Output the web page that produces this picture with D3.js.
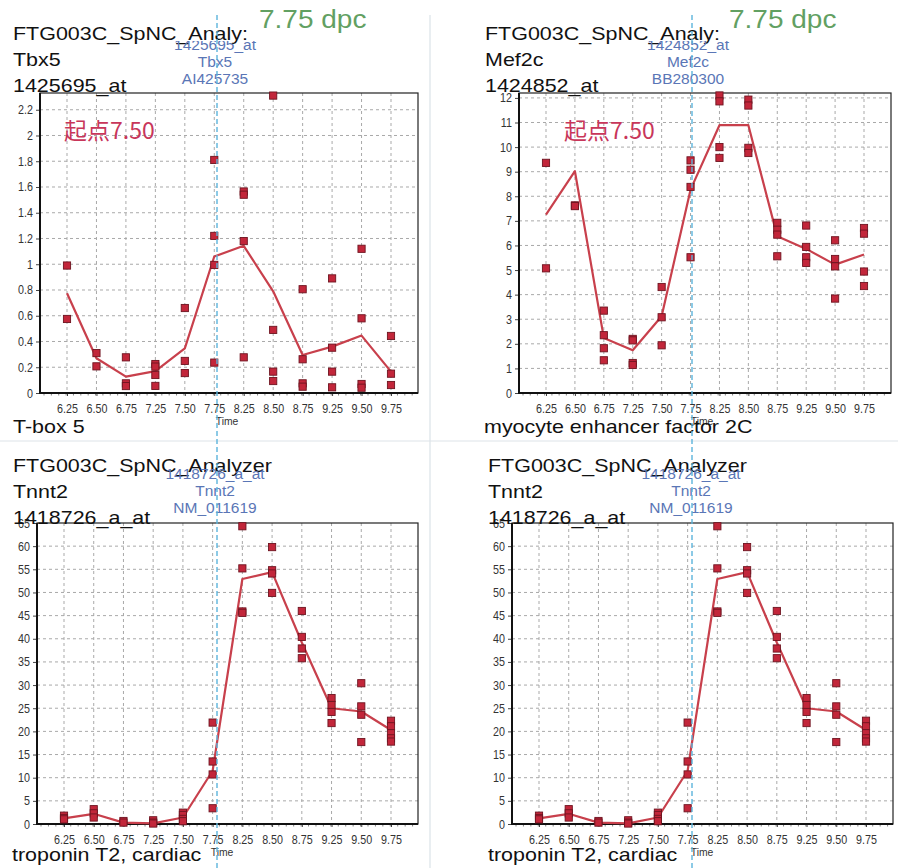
<!DOCTYPE html>
<html>
<head>
<meta charset="utf-8">
<script src="https://cdn.jsdelivr.net/npm/d3@7"></script>
<style>
  body { margin: 0; background: #fff; }
  svg { display: block; }
</style>
</head>
<body>
<svg id="chart" width="898" height="868"></svg>
<script>
// Time points (dpc) shared by every panel
const timepoints = ["6.25", "6.50", "6.75", "7.25", "7.50", "7.75", "8.25", "8.50", "8.75", "9.25", "9.50", "9.75"];

// Tbx5 (1425695_at): replicate signals per time point and the mean trend
const tbx5Samples = [
  [0.99, 0.575], [0.31, 0.207], [0.277, 0.075, 0.054], [0.225, 0.205, 0.14, 0.055],
  [0.66, 0.249, 0.155], [1.81, 1.22, 0.995, 0.236], [1.565, 1.54, 1.18, 0.277],
  [2.31, 0.49, 0.166, 0.093], [0.806, 0.262, 0.075, 0.049], [0.89, 0.352, 0.166, 0.044],
  [1.12, 0.58, 0.07, 0.041], [0.443, 0.15, 0.062]
];
const tbx5Mean = [0.775, 0.27, 0.127, 0.17, 0.347, 1.06, 1.143, 0.79, 0.295, 0.36, 0.446, 0.166];
const tbx5Ticks = [0, 0.2, 0.4, 0.6, 0.8, 1, 1.2, 1.4, 1.6, 1.8, 2, 2.2];

// Mef2c (1424852_at)
const mef2cSamples = [
  [9.36, 5.07], [7.63, 7.6], [3.35, 2.35, 1.82, 1.33], [2.2, 2.14, 1.22, 1.14],
  [4.31, 3.08, 1.94], [9.46, 9.08, 8.38, 5.52], [12.1, 11.86, 10.0, 9.56],
  [11.93, 11.69, 9.97, 9.76], [6.92, 6.64, 6.44, 5.56], [6.81, 5.94, 5.52, 5.29],
  [6.21, 5.45, 5.15, 3.84], [6.71, 6.48, 4.94, 4.35]
];
const mef2cMean = [7.25, 9.02, 2.24, 1.74, 3.12, 8.27, 10.89, 10.89, 6.37, 5.86, 5.22, 5.63];
const mef2cTicks = [0, 1, 2, 3, 4, 5, 6, 7, 8, 9, 10, 11, 12];

// Tnnt2 (1418726_a_at)
const tnnt2Samples = [
  [1.8, 1.3, 1.0], [3.2, 2.3, 1.4], [0.65, 0.3], [0.8, 0.3, 0.1],
  [2.45, 1.95, 1.1, 0.6], [21.9, 13.5, 10.7, 3.4], [64.3, 55.2, 45.9, 45.6],
  [59.8, 54.8, 54.1, 49.9], [46.0, 40.4, 37.9, 35.8], [27.2, 25.7, 24.2, 21.8],
  [30.4, 25.4, 23.6, 17.7], [22.3, 21.1, 19.6, 18.5, 17.8]
];
const tnnt2Mean = [1.2, 2.2, 0.3, 0.15, 1.4, 11.5, 52.9, 54.4, 39.2, 25.0, 24.3, 20.3];
const tnnt2Ticks = [0, 5, 10, 15, 20, 25, 30, 35, 40, 45, 50, 55, 60, 65];

const LATIN = "'Liberation Sans', Arial, sans-serif";
const CJK = "'Noto Sans CJK SC', 'Noto Sans CJK JP', sans-serif";

const panels = [
  {
    samples: tbx5Samples, mean: tbx5Mean, ticks: tbx5Ticks, yMax: 2.33,
    box: { x0: 40, x1: 418, y0: 93, y1: 393 }, inset: 27,
    head: { x: 13, y: 40, lines: ["FTG003C_SpNC_Analy:", "Tbx5", "1425695_at"] },
    probe: { x: 215, y: 50, clip: 41, lines: ["1425695_at", "Tbx5", "AI425735"] },
    foot: { x: 13, y: 433, text: "T-box 5" },
    time: { x: 227, y: 425 },
    stage: { x: 259, y: 28 },
    start: { x: 64, y: 139 },
    marker: 217
  },
  {
    samples: mef2cSamples, mean: mef2cMean, ticks: mef2cTicks, yMax: 12.2,
    box: { x0: 519, x1: 891, y0: 93, y1: 393 }, inset: 27,
    head: { x: 485, y: 40, lines: ["FTG003C_SpNC_Analy:", "Mef2c", "1424852_at"] },
    probe: { x: 688, y: 50, clip: 41, lines: ["1424852_at", "Mef2c", "BB280300"] },
    foot: { x: 484, y: 433, text: "myocyte enhancer factor 2C" },
    time: { x: 702, y: 425 },
    stage: { x: 729, y: 28 },
    start: { x: 564, y: 139 },
    marker: 692
  },
  {
    samples: tnnt2Samples, mean: tnnt2Mean, ticks: tnnt2Ticks, yMax: 65,
    box: { x0: 37, x1: 418, y0: 523, y1: 824 }, inset: 27,
    head: { x: 13, y: 472, lines: ["FTG003C_SpNC_Analyzer", "Tnnt2", "1418726_a_at"] },
    probe: { x: 215, y: 479, clip: 469, lines: ["1418726_a_at", "Tnnt2", "NM_011619"] },
    foot: { x: 12, y: 861, text: "troponin T2, cardiac" },
    time: { x: 222, y: 856 },
    marker: 216
  },
  {
    samples: tnnt2Samples, mean: tnnt2Mean, ticks: tnnt2Ticks, yMax: 65,
    box: { x0: 512, x1: 893, y0: 523, y1: 824 }, inset: 27,
    head: { x: 488, y: 472, lines: ["FTG003C_SpNC_Analyzer", "Tnnt2", "1418726_a_at"] },
    probe: { x: 691, y: 479, clip: 469, lines: ["1418726_a_at", "Tnnt2", "NM_011619"] },
    foot: { x: 488, y: 861, text: "troponin T2, cardiac" },
    time: { x: 702, y: 856 },
    marker: 691
  }
];

const svg = d3.select("#chart");
const defs = svg.append("defs");

// faint sheet separators
svg.append("line").attr("x1", 430).attr("x2", 430).attr("y1", 15).attr("y2", 868)
  .attr("stroke", "#d3dde3").attr("stroke-width", 1);
svg.append("line").attr("x1", 0).attr("x2", 898).attr("y1", 441).attr("y2", 441)
  .attr("stroke", "#dde3e8").attr("stroke-width", 1);

// text helper: stretched horizontally by sx
function label(g, x, y, txt, opts) {
  const sx = opts.sx || 1;
  return g.append("text")
    .attr("transform", `translate(${x},${y}) scale(${sx},1)`)
    .attr("text-anchor", opts.anchor || "start")
    .attr("font-family", opts.family || LATIN)
    .attr("font-size", opts.size)
    .attr("fill", opts.fill || "#111")
    .text(txt);
}

const fmt = v => String(+v.toFixed(1));

panels.forEach((p, i) => {
  const g = svg.append("g");
  const b = p.box;

  const x = d3.scalePoint().domain(timepoints).range([b.x0 + p.inset, b.x1 - p.inset]);
  const y = d3.scaleLinear().domain([0, p.yMax]).range([b.y1, b.y0]);
  const step = x.step();

  // grid
  const grid = g.append("g").attr("stroke", "#a9a9a9").attr("stroke-width", 1)
    .attr("stroke-dasharray", "3,3");
  grid.selectAll("line.h").data(p.ticks.filter(t => t > 0 && y(t) > b.y0 + 1)).join("line")
    .attr("class", "h").attr("x1", b.x0).attr("x2", b.x1)
    .attr("y1", d => y(d)).attr("y2", d => y(d));
  grid.selectAll("line.v").data(timepoints).join("line")
    .attr("class", "v").attr("y1", b.y0).attr("y2", b.y1)
    .attr("x1", d => x(d)).attr("x2", d => x(d));

  // y axis
  const ya = g.append("g").attr("transform", `translate(${b.x0},0)`)
    .call(d3.axisLeft(y).tickValues(p.ticks).tickFormat(fmt).tickSize(4).tickPadding(3));
  ya.select(".domain").remove();
  ya.selectAll("line").attr("stroke", "#444");
  ya.selectAll("text")
    .attr("font-family", LATIN).attr("font-size", 12.5).attr("fill", "#333")
    .attr("x", -7 / 0.86).attr("transform", "scale(0.86,1)");

  // x axis
  const xa = g.append("g").attr("transform", `translate(0,${b.y1})`)
    .call(d3.axisBottom(x).tickSize(3).tickPadding(8));
  xa.select(".domain").remove();
  xa.selectAll("line").attr("stroke", "#444");
  xa.selectAll("text")
    .attr("font-family", LATIN).attr("font-size", 12.5).attr("fill", "#333")
    .attr("transform", "scale(0.86,1)");

  // minor ticks along the time axis
  const minor = d3.range(b.x0 + 4, b.x1 - 2, step / 4);
  g.append("g").selectAll("line").data(minor).join("line")
    .attr("x1", d => d).attr("x2", d => d).attr("y1", b.y1).attr("y2", b.y1 + 2.5)
    .attr("stroke", "#666").attr("stroke-width", 0.8);

  // frame
  g.append("rect").attr("x", b.x0).attr("y", b.y0).attr("width", b.x1 - b.x0).attr("height", b.y1 - b.y0)
    .attr("fill", "none").attr("stroke", "#222").attr("stroke-width", 1.2);
  g.append("path").attr("d", `M${b.x0},${b.y0}V${b.y1}H${b.x1}`)
    .attr("fill", "none").attr("stroke", "#111").attr("stroke-width", 2);

  // mean trend
  g.append("path").datum(p.mean)
    .attr("d", d3.line().x((d, k) => x(timepoints[k])).y(d => y(d)))
    .attr("fill", "none").attr("stroke", "#c8404c").attr("stroke-width", 2.2)
    .attr("stroke-linejoin", "round");

  // replicates
  const pts = p.samples.flatMap((arr, k) => arr.map(v => ({ t: timepoints[k], v })));
  g.append("g").selectAll("rect").data(pts).join("rect")
    .attr("x", d => x(d.t) - 3.6).attr("y", d => y(d.v) - 3.6)
    .attr("width", 7.2).attr("height", 7.2)
    .attr("fill", "#c2263a").attr("stroke", "#6e1420").attr("stroke-width", 0.9);

  // axis title
  label(g, p.time.x, p.time.y, "Time", { size: 11.5, anchor: "middle", fill: "#333", sx: 0.9 });

  // footer gene description
  label(g, p.foot.x, p.foot.y, p.foot.text, { size: 19, sx: 1.13 });

  // header block
  p.head.lines.forEach((t, k) => label(g, p.head.x, p.head.y + k * 26, t, { size: 19, sx: 1.13 }));

  // probe annotation (first row partly hidden)
  const cid = "probeclip" + i;
  defs.append("clipPath").attr("id", cid).append("rect")
    .attr("x", p.probe.x - 80).attr("y", p.probe.clip).attr("width", 160).attr("height", 60);
  const pg = g.append("g").attr("clip-path", `url(#${cid})`);
  p.probe.lines.forEach((t, k) => label(pg, p.probe.x, p.probe.y + k * 16.8, t,
    { size: 15.5, anchor: "middle", fill: "#5a76b6" }));

  if (p.stage) {
    label(g, p.stage.x, p.stage.y, "7.75 dpc", { size: 25, fill: "#62a062", sx: 1.12 });
  }
  if (p.start) {
    label(g, p.start.x, p.start.y, "起点7.50", { size: 23, fill: "#c8365a", family: CJK });
  }
});

// 7.75 dpc reference lines running down both columns
[217, 692].forEach(mx => {
  svg.append("line").attr("x1", mx).attr("x2", mx).attr("y1", 15).attr("y2", 868)
    .attr("stroke", "#5cb4dc").attr("stroke-width", 1.4).attr("stroke-dasharray", "5,3");
});
</script>
</body>
</html>
